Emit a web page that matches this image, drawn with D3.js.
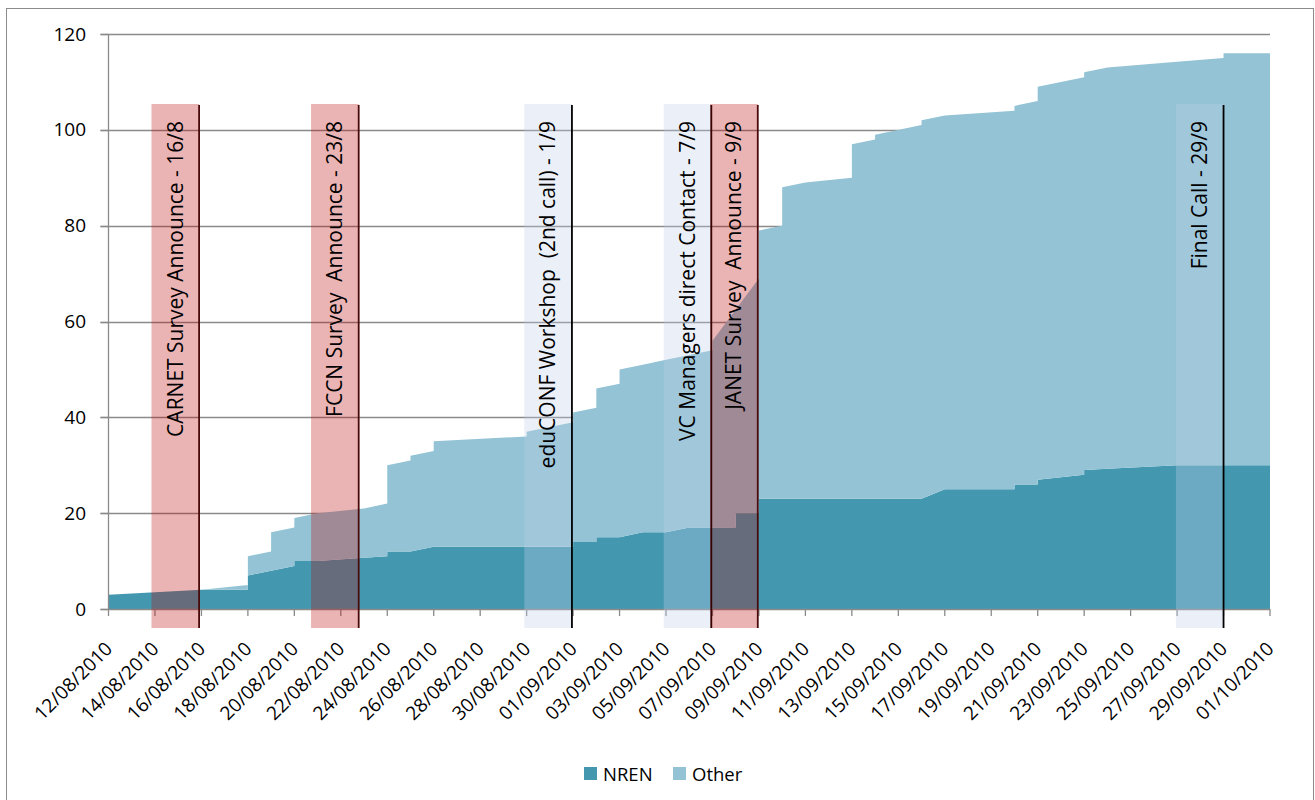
<!DOCTYPE html>
<html><head><meta charset="utf-8">
<script src="https://cdn.jsdelivr.net/npm/d3@7"></script>
<style>
body{margin:0;background:#fff;}
text{font-family:'Open Sans',sans-serif;fill:#000;}
</style>
</head><body><svg id="c" width="1315" height="800"></svg>
<script>
// ---------- data ----------
const pointDates = ["12/08/2010","16/08/2010","18/08/2010","18/08/2010","19/08/2010","19/08/2010","20/08/2010","20/08/2010","21/08/2010","23/08/2010","24/08/2010","24/08/2010","25/08/2010","25/08/2010","26/08/2010","26/08/2010","30/08/2010","30/08/2010","01/09/2010","01/09/2010","02/09/2010","02/09/2010","03/09/2010","03/09/2010","04/09/2010","05/09/2010","06/09/2010","07/09/2010","07/09/2010","08/09/2010","08/09/2010","09/09/2010","09/09/2010","10/09/2010","10/09/2010","11/09/2010","13/09/2010","13/09/2010","14/09/2010","14/09/2010","16/09/2010","16/09/2010","17/09/2010","20/09/2010","20/09/2010","21/09/2010","21/09/2010","23/09/2010","23/09/2010","24/09/2010","27/09/2010","29/09/2010","29/09/2010","01/10/2010"];
const nren  = [3,4,4,7,8,8,9,10,10,10.7,11,12,12,12,13,13,13,13,13,14,14,15,15,15,16,16,17,17,17,17,20,20,23,23,23,23,23,23,23,23,23,23,25,25,26,26,27,28,29,29.25,30,30,30,30];
const other = [0,0,1,4,4,8,8,9,10,10.3,11,18,19,20,20,22,23,24,26,27,28,31,32,35,35,36,36,37,39,45.5,42.5,49,56,57,65,66,67,74,75,76,78,79,78,79,79,80,82,83,83,83.75,84.2,85,86,86];
const seriesNames = ["NREN","Other"];
const tickLabels = ["12/08/2010","14/08/2010","16/08/2010","18/08/2010","20/08/2010","22/08/2010","24/08/2010","26/08/2010","28/08/2010","30/08/2010","01/09/2010","03/09/2010","05/09/2010","07/09/2010","09/09/2010","11/09/2010","13/09/2010","15/09/2010","17/09/2010","19/09/2010","21/09/2010","23/09/2010","25/09/2010","27/09/2010","29/09/2010","01/10/2010"];
const yTicks = [0,20,40,60,80,100,120];
const annotationLabels = ["CARNET Survey Announce - 16/8","FCCN Survey  Announce - 23/8","eduCONF Workshop  (2nd call) - 1/9","VC Managers direct Contact - 7/9","JANET Survey  Announce - 9/9","Final Call - 29/9"];
const annotationDays = [3.9, 10.77, 19.95, 25.95, 27.95, 48]; // days after 12/08/2010
const annotationKinds = ["red","red","blue","blue","red","blue"];

// ---------- layout ----------
const svg = d3.select("#c");
const L = 108.5, R = 1270, T = 34, B = 609;
const parse = d3.utcParse("%d/%m/%Y");
const start = parse(tickLabels[0]), end = parse(tickLabels[tickLabels.length-1]);
const x = d3.scaleUtc().domain([start, end]).range([L, R]);
const y = d3.scaleLinear().domain([0, 120]).range([B, T]);

// outer border
svg.append("rect").attr("x",6.5).attr("y",8.5).attr("width",1307).attr("height",800)
  .attr("fill","none").attr("stroke","#8c8c8c").attr("stroke-width",1);

// gridlines
svg.append("g").selectAll("line").data(yTicks.filter(v=>v>0)).join("line")
  .attr("x1",L-8).attr("x2",R).attr("y1",d=>Math.round(y(d))+0.5).attr("y2",d=>Math.round(y(d))+0.5)
  .attr("stroke","#8a8a8a").attr("stroke-width",1.3);

// stacked areas
const rows = pointDates.map((d,i)=>({date:parse(d), NREN:nren[i], Other:other[i]}));
const stack = d3.stack().keys(seriesNames)(rows);
const colors = {NREN:"#4398b0", Other:"#93c3d5"};
const area = d3.area().x(d=>x(d.data.date)).y0(d=>y(d[0])).y1(d=>y(d[1]));
svg.append("g").selectAll("path").data(stack).join("path")
  .attr("d",area).attr("fill",d=>colors[d.key]);

// axes
const axG = svg.append("g").attr("stroke","#8a8a8a").attr("stroke-width",1.3);
axG.append("line").attr("x1",L).attr("x2",L).attr("y1",T).attr("y2",B);
axG.append("line").attr("x1",L-8).attr("x2",R).attr("y1",B+0.5).attr("y2",B+0.5);
axG.selectAll(".yt").data(yTicks).join("line").attr("class","yt")
  .attr("x1",L-8).attr("x2",L).attr("y1",d=>Math.round(y(d))+0.5).attr("y2",d=>Math.round(y(d))+0.5);
axG.selectAll(".xt").data(tickLabels).join("line").attr("class","xt")
  .attr("x1",d=>x(parse(d))).attr("x2",d=>x(parse(d))).attr("y1",B).attr("y2",B+7);

svg.append("g").selectAll("text").data(yTicks).join("text")
  .attr("x",86).attr("y",d=>y(d)).attr("dy","0.35em").attr("text-anchor","end")
  .style("font-size","19px").text(d=>d);

svg.append("g").selectAll("text").data(tickLabels).join("text")
  .attr("transform",d=>`translate(${x(parse(d))+5},${B+41}) rotate(-45)`)
  .attr("text-anchor","end").style("font-size","19px").text(d=>d);

// annotation bands
const dayMs = 86400000;
const bandW = x(new Date(start.getTime()+2.05*dayMs)) - x(start);
const bandFill = {red:"rgba(188,8,8,0.3)", blue:"rgba(192,208,232,0.32)"};
const lineCol = {red:"#4a0a0a", blue:"#000"};
const ann = svg.append("g");
annotationDays.forEach((dd,i)=>{
  const lx = x(new Date(start.getTime()+dd*dayMs));
  const k = annotationKinds[i];
  ann.append("rect").attr("x",lx-bandW).attr("y",104).attr("width",bandW).attr("height",628-104)
    .attr("fill",bandFill[k]);
  ann.append("line").attr("x1",lx).attr("x2",lx).attr("y1",105).attr("y2",628)
    .attr("stroke",lineCol[k]).attr("stroke-width",1.8);
  ann.append("text").attr("transform",`translate(${lx-bandW/2},121) rotate(-90)`)
    .attr("text-anchor","end").attr("dy","0.35em").style("font-size","21px").style("white-space","pre")
    .text(annotationLabels[i]);
});

// legend
const lg = svg.append("g");
const legX = [584, 673];
seriesNames.forEach((s,i)=>{
  lg.append("rect").attr("x",legX[i]).attr("y",767).attr("width",13).attr("height",13).attr("fill",colors[s]);
  lg.append("text").attr("x",legX[i]+19).attr("y",781).style("font-size","18.5px").text(s);
});
</script>
</body></html>
